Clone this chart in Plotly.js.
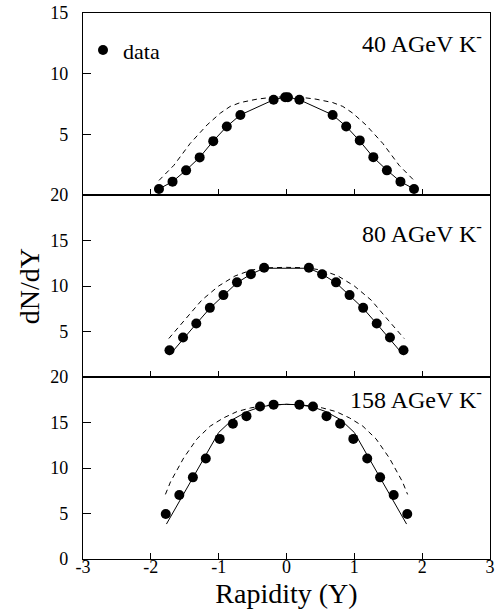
<!DOCTYPE html>
<html>
<head>
<meta charset="utf-8">
<script src="https://cdn.plot.ly/plotly-3.0.1.min.js"></script>
<style>html,body{margin:0;padding:0;background:#fff;}#chart{width:495px;height:609px;}</style>
</head>
<body>
<div id="chart"></div>
<script>
// ---- 40 AGeV K- (top panel) ----
const xData40 = [-1.88,-1.68,-1.48,-1.28,-1.08,-0.88,-0.68,-0.19,-0.02,0.02,0.19,0.68,0.88,1.08,1.28,1.48,1.68,1.88];
const yData40 = [0.5,1.1,2.03,3.1,4.44,5.64,6.6,7.85,8.06,8.06,7.85,6.6,5.64,4.5,3.12,2.03,1.1,0.5];
const xSolid40 = [-1.88,-1.68,-1.48,-1.28,-1.08,-0.88,-0.68,-0.19,0,0.19,0.68,0.88,1.08,1.28,1.48,1.68,1.88];
const ySolid40 = [0.5,1.1,2.05,3.1,4.45,5.65,6.6,7.85,8.1,7.85,6.6,5.65,4.45,3.1,2.05,1.1,0.5];
const xDash40 = [-1.88,-1.66,-1.42,-1.17,-0.975,-0.83,-0.68,-0.435,-0.215,0,0.215,0.435,0.68,0.83,0.975,1.17,1.42,1.66,1.88];
const yDash40 = [1.2,2.45,4.25,5.78,6.75,7.3,7.62,7.9,8.05,8.1,8.05,7.9,7.62,7.3,6.75,5.78,4.25,2.45,1.2];

// ---- 80 AGeV K- (middle panel) ----
const xData80 = [-1.725,-1.525,-1.33,-1.13,-0.93,-0.73,-0.525,-0.33,0.33,0.525,0.73,0.93,1.13,1.33,1.525,1.725];
const yData80 = [2.94,4.34,5.87,7.6,9.0,10.4,11.3,12.0,12.0,11.3,10.4,9.0,7.6,5.87,4.34,2.94];
const xSolid80 = [-1.725,-1.525,-1.33,-1.13,-0.93,-0.73,-0.525,-0.33,0.33,0.525,0.73,0.93,1.13,1.33,1.525,1.725];
const ySolid80 = [2.4,4.2,5.85,7.55,9.0,10.35,11.3,11.95,11.95,11.3,10.35,9.0,7.55,5.85,4.2,2.4];
const xDash80 = [-1.735,-1.5,-1.25,-1.0,-0.76,-0.52,-0.29,0,0.29,0.52,0.76,1.0,1.25,1.5,1.735];
const yDash80 = [4.23,6.24,8.44,10.0,11.1,11.75,12.0,12.05,12.0,11.75,11.1,10.0,8.44,6.24,4.23];

// ---- 158 AGeV K- (bottom panel) ----
const xData158 = [-1.78,-1.58,-1.38,-1.19,-0.985,-0.79,-0.59,-0.39,-0.19,0.19,0.39,0.59,0.79,0.985,1.19,1.38,1.58,1.78];
const yData158 = [4.95,7.03,8.97,11.05,13.2,14.87,15.7,16.76,16.96,16.96,16.76,15.7,14.87,13.2,11.05,8.97,7.03,4.95];
const xSolid158 = [-1.77,-1.39,-1.0,-0.8,-0.58,-0.39,-0.19,0,0.19,0.39,0.58,0.8,1.0,1.39,1.77];
const ySolid158 = [3.84,8.8,13.9,15.3,16.2,16.7,16.95,17.0,16.95,16.7,16.2,15.3,13.9,8.8,3.84];
const xDash158 = [-1.785,-1.71,-1.516,-1.32,-1.125,-0.93,-0.73,-0.53,-0.34,0,0.34,0.53,0.73,0.93,1.125,1.32,1.516,1.71,1.785];
const yDash158 = [7.1,8.48,11.1,13.2,14.6,15.5,16.2,16.6,16.85,17.0,16.85,16.6,16.2,15.5,14.6,13.2,11.1,8.48,7.1];

const panelLabels = ['40 AGeV K<sup>-</sup>','80 AGeV K<sup>-</sup>','158 AGeV K<sup>-</sup>'];
const xTickVals = [-3,-2,-1,0,1,2,3];
const xTickText = ['-3','-2','-1','0','1','2','3'];

const FONT = 'Times New Roman, Liberation Serif, serif';

function panel(xd, yd, xs, ys, xdsh, ydsh, xa, ya, legend) {
  return [
    {x: xs, y: ys, xaxis: xa, yaxis: ya, mode: 'lines', line: {color: '#000', width: 1}, showlegend: false, hoverinfo: 'skip'},
    {x: xdsh, y: ydsh, xaxis: xa, yaxis: ya, mode: 'lines', line: {color: '#000', width: 1, dash: '5px,4px'}, showlegend: false, hoverinfo: 'skip'},
    {x: xd, y: yd, xaxis: xa, yaxis: ya, mode: 'markers', name: 'data', marker: {color: '#000', size: 10, symbol: 'circle'}, showlegend: legend}
  ];
}

const traces = [].concat(
  panel(xData158, yData158, xSolid158, ySolid158, xDash158, yDash158, 'x', 'y', false),
  panel(xData80, yData80, xSolid80, ySolid80, xDash80, yDash80, 'x2', 'y2', false),
  panel(xData40, yData40, xSolid40, ySolid40, xDash40, yDash40, 'x3', 'y3', true)
);

const axisCommon = {
  showline: true, mirror: true, linecolor: '#000', linewidth: 1.2,
  showgrid: false, zeroline: false, ticks: 'inside', tickcolor: '#000', tickwidth: 1,
  tickfont: {family: FONT, size: 18, color: '#000'}
};
const yCommon = Object.assign({}, axisCommon, {ticklen: 8, ticklabelstandoff: 10, tickmode: 'array'});

const layout = {
  width: 495, height: 609,
  margin: {l: 83, r: 5, t: 13, b: 50},
  paper_bgcolor: '#fff', plot_bgcolor: '#fff',
  font: {family: FONT, color: '#000'},
  showlegend: true,
  legend: {x: 0.0, y: 0.932, xanchor: 'left', yanchor: 'middle', bgcolor: 'rgba(0,0,0,0)',
           font: {family: FONT, size: 22, color: '#000'}},
  xaxis: Object.assign({}, axisCommon, {anchor: 'y', domain: [0, 1], range: [-3, 3], tickmode: 'array',
           tickvals: xTickVals, ticktext: xTickText, ticklen: 6, ticklabelstandoff: -9,
           title: {text: 'Rapidity (Y)', font: {family: FONT, size: 28, color: '#000'}, standoff: 10}}),
  xaxis2: Object.assign({}, axisCommon, {anchor: 'y2', domain: [0, 1], range: [-3, 3], tickmode: 'array',
           tickvals: xTickVals, showticklabels: false, ticklen: 6}),
  xaxis3: Object.assign({}, axisCommon, {anchor: 'y3', domain: [0, 1], range: [-3, 3], tickmode: 'array',
           tickvals: xTickVals, showticklabels: false, ticklen: 6}),
  yaxis: Object.assign({}, yCommon, {anchor: 'x', domain: [0, 1/3], range: [0, 20],
           tickvals: [0, 5, 10, 15, 20]}),
  yaxis2: Object.assign({}, yCommon, {anchor: 'x2', domain: [1/3, 2/3], range: [0, 20],
           tickvals: [5, 10, 15, 20],
           title: {text: 'dN/dY', font: {family: FONT, size: 28, color: '#000'}, standoff: 2}}),
  yaxis3: Object.assign({}, yCommon, {anchor: 'x3', domain: [2/3, 1], range: [0, 15],
           tickvals: [5, 10, 15]}),
  annotations: [
    {text: panelLabels[0], xref: 'paper', yref: 'paper', x: 0.985, y: 0.947, xanchor: 'right', yanchor: 'middle',
     showarrow: false, font: {family: FONT, size: 24, color: '#000'}},
    {text: panelLabels[1], xref: 'paper', yref: 'paper', x: 0.985, y: 0.599, xanchor: 'right', yanchor: 'middle',
     showarrow: false, font: {family: FONT, size: 24, color: '#000'}},
    {text: panelLabels[2], xref: 'paper', yref: 'paper', x: 0.985, y: 0.295, xanchor: 'right', yanchor: 'middle',
     showarrow: false, font: {family: FONT, size: 24, color: '#000'}}
  ]
};

Plotly.newPlot('chart', traces, layout, {staticPlot: true, displayModeBar: false});
</script>
</body>
</html>
